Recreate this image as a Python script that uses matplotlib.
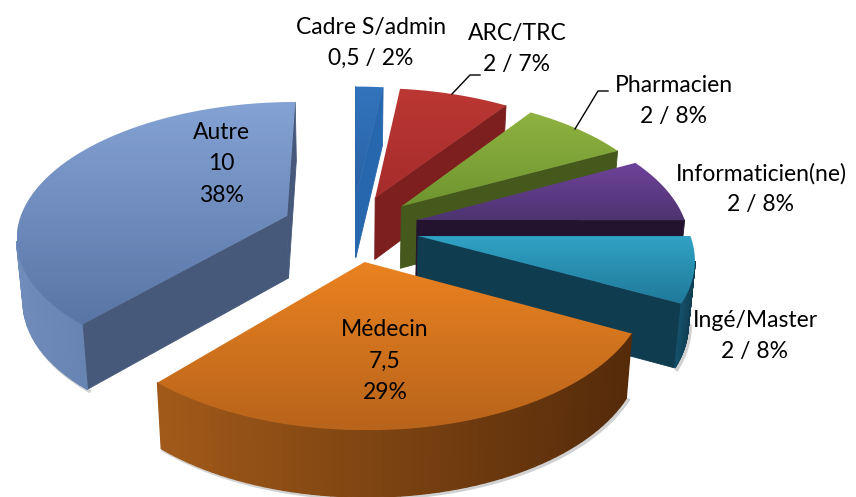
import numpy as np
import matplotlib
matplotlib.use('Agg')
import matplotlib.pyplot as plt
from matplotlib.colors import LinearSegmentedColormap
from matplotlib.patches import Polygon

names = ['Cadre S/admin', 'ARC/TRC', 'Pharmacien', 'Informaticien(ne)', 'Ingé/Master', 'Médecin', 'Autre']
values = [0.5, 2, 2, 2, 2, 7.5, 10]
value_text = ['0,5', '2', '2', '2', '2', '7,5', '10']
percents = [2, 7, 8, 8, 8, 29, 38]

top_light = ['#3274bd', '#bb3733', '#8fb240', '#6f429b', '#30a2c4', '#ea8220', '#84a2d3']
top_dark = ['#2a62a5', '#a62c2b', '#6f9530', '#4d3470', '#20799a', '#b8641b', '#5875a6']
cut_color = ['#2767ad', '#7d1e1f', '#45591d', '#24132f', '#103c50', '#5a2f0c', '#47597a']
rim_light = ['#2f6db5', '#8a2524', '#56701f', '#2c1a3a', '#15506a', '#a25a19', '#6f8cbb']
rim_dark = ['#235a96', '#7d1e1f', '#45591d', '#24132f', '#103c50', '#552b0a', '#506a96']

# label centre in picture pixels per slice
label_pos = [(371, 43), (517, 49), (674, 101), (761, 189), (755, 336), (385, 361), (221, 164)]
explode = [0.25, 0.25, 0.25, 0.25, 0.25, 0.25, 0.26]

CX, CY = 352, 228
A, B = 270, 133.4
K = 0.143
Z_SHRINK = 0.02


def project(x, y, bottom=False):
    w = 1 + K * y
    if bottom:
        # wall gets a bit taller towards the viewer
        return CX + A * x / (w * (1 + Z_SHRINK)), CY - B * y / w + 62.5 - 3.5 * y
    return CX + A * x / w, CY - B * y / w


def faces_viewer(nx, ny, px, py):
    # eye sits in front of the pie on the ground axis
    return nx * (0 - px) + ny * (-1 / K - py) > 0


def mix(c1, c2, t):
    a = np.array(matplotlib.colors.to_rgb(c1))
    b = np.array(matplotlib.colors.to_rgb(c2))
    return a + (b - a) * t


fig = plt.figure(figsize=(8.56, 4.97), dpi=100)
ax = fig.add_axes([0, 0, 1, 1])
ax.axis('off')

fractions = np.array(values) / np.sum(values)
stops = np.concatenate([[0], np.cumsum(fractions)]) * 2 * np.pi

slices = []
for i in range(len(values)):
    mid = (stops[i] + stops[i + 1]) / 2
    ox, oy = explode[i] * np.sin(mid), explode[i] * np.cos(mid)
    slices.append((oy, i, ox))

# back slices first
slices.sort(key=lambda s: -s[0])
z = 2
for oy, i, ox in slices:
    t = np.linspace(stops[i], stops[i + 1], 60)
    rx, ry = ox + np.sin(t), oy + np.cos(t)
    top_x, top_y = project(rx, ry)
    bot_x, bot_y = project(rx, ry, bottom=True)
    apex_top = project(ox, oy)
    apex_bot = project(ox, oy, bottom=True)

    # faint shadow under the visible part of the wall
    seen = faces_viewer(np.sin(t), np.cos(t), rx, ry)
    ax.plot(bot_x[seen] + 2, bot_y[seen] + 1.5, color='#999999', lw=2.5, alpha=0.45, zorder=z)

    # the two flat cuts
    a0, a1 = stops[i], stops[i + 1]
    if faces_viewer(-np.cos(a0), np.sin(a0), ox, oy):
        pts = [apex_top, (top_x[0], top_y[0]), (bot_x[0], bot_y[0]), apex_bot]
        ax.add_patch(Polygon(pts, facecolor=cut_color[i], edgecolor=cut_color[i], lw=0.6, zorder=z))
    if faces_viewer(np.cos(a1), -np.sin(a1), ox, oy):
        pts = [apex_top, (top_x[-1], top_y[-1]), (bot_x[-1], bot_y[-1]), apex_bot]
        ax.add_patch(Polygon(pts, facecolor=cut_color[i], edgecolor=cut_color[i], lw=0.6, zorder=z))

    # curved wall
    for j in range(len(t) - 1):
        tm = (t[j] + t[j + 1]) / 2
        if not faces_viewer(np.sin(tm), np.cos(tm), ox + np.sin(tm), oy + np.cos(tm)):
            continue
        quad = [(top_x[j], top_y[j]), (top_x[j + 1], top_y[j + 1]),
                (bot_x[j + 1], bot_y[j + 1]), (bot_x[j], bot_y[j])]
        frac = (top_x[j] - np.min(top_x)) / max(np.ptp(top_x), 1)
        col = mix(rim_light[i], rim_dark[i], frac)
        ax.add_patch(Polygon(quad, facecolor=col, edgecolor=col, lw=1.0, zorder=z))
    z += 1

    top_pts = np.column_stack([np.r_[apex_top[0], top_x], np.r_[apex_top[1], top_y]])
    cmap = LinearSegmentedColormap.from_list('top%d' % i, [top_light[i], top_dark[i]])
    x0, x1 = top_pts[:, 0].min(), top_pts[:, 0].max()
    y0, y1 = top_pts[:, 1].min(), top_pts[:, 1].max()
    grad = np.linspace(0, 1, 128).reshape(-1, 1)
    im = ax.imshow(grad, cmap=cmap, extent=(x0, x1, y1, y0), aspect='auto', zorder=z, origin='upper')
    clip = Polygon(top_pts, closed=True, transform=ax.transData, facecolor='none', edgecolor='none')
    ax.add_patch(clip)
    im.set_clip_path(clip)
    z += 1

ax.set_xlim(0, 856)
ax.set_ylim(497, 0)

plt.rcParams['font.family'] = ['Lato', 'DejaVu Sans']
for i, name in enumerate(names):
    if name in ('Médecin', 'Autre'):
        txt = '%s\n%s\n%d%%' % (name, value_text[i], percents[i])
    else:
        txt = '%s\n%s / %d%%' % (name, value_text[i], percents[i])
    ax.text(label_pos[i][0], label_pos[i][1], txt, ha='center', va='center', fontsize=16.5,
            linespacing=1.6, color='black', zorder=50)

# leader lines
ax.plot([452, 470, 480], [94, 75, 75], color='black', lw=1.0, zorder=40)
ax.plot([575, 598, 608], [129, 91, 91], color='black', lw=1.0, zorder=40)

fig.savefig('out.png', dpi=100, facecolor='white')
